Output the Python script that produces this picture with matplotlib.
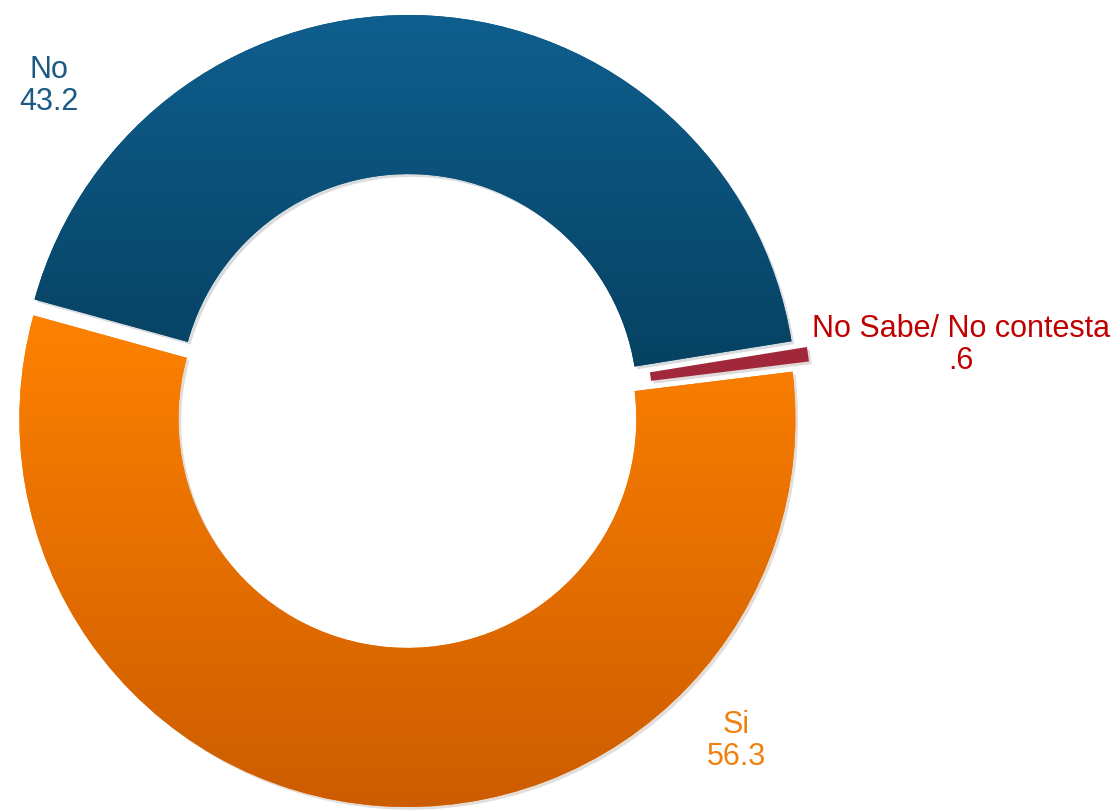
import numpy as np
import matplotlib.pyplot as plt
import matplotlib.patheffects as pe
from matplotlib.colors import LinearSegmentedColormap

# datos
categorias = ['No Sabe/ No contesta', 'No', 'Si']
valores = [0.6, 43.2, 56.3]
etiquetas_valor = ['.6', '43.2', '56.3']

W, H = 1120, 811
fig = plt.figure(figsize=(W / 100, H / 100), dpi=100)
ax = fig.add_axes([0, 0, 1, 1])

cx, cy = 408, H - 411
R = 388
ancho = 0.41

# explode en unidades de datos (pixeles)
wedges, _ = ax.pie(valores, center=(cx, cy), radius=R, startangle=7,
                   counterclock=True, explode=[16, 8, 8],
                   wedgeprops=dict(width=R * ancho, linewidth=0),
                   colors=['#a0283a', '#0b5582', '#f07400'], frame=True)
ax.set_xlim(0, W)
ax.set_ylim(0, H)
ax.set_aspect('equal')
ax.axis('off')

# degradados verticales (arriba -> abajo)
grads = {
    1: ('#0f5f8f', '#06405f', H - 10, H - 385),
    2: ('#ff8200', '#cc5c00', H - 300, H - 811),
}
for i, w in enumerate(wedges):
    w.set_path_effects([pe.SimplePatchShadow(offset=(2, -2), alpha=0.15), pe.Normal()])
    if i in grads:
        c_top, c_bot, y_top, y_bot = grads[i]
        cmap = LinearSegmentedColormap.from_list('g%d' % i, [c_bot, c_top])
        grad = np.linspace(0, 1, 256).reshape(-1, 1)
        im = ax.imshow(grad, cmap=cmap, origin='lower', aspect='auto',
                       extent=(0, W, y_bot, y_top), zorder=w.get_zorder() + 0.1)
        im.set_clip_path(w)

ax.set_xlim(0, W)
ax.set_ylim(0, H)

fuente = 'Liberation Sans'
ax.text(49, H - 86, 'No\n43.2', ha='center', va='center', fontsize=22,
        color='#1b5a84', family=fuente, linespacing=1.08)
ax.text(736, H - 741, 'Si\n56.3', ha='center', va='center', fontsize=22,
        color='#f28010', family=fuente, linespacing=1.1)
ax.text(961, H - 345, 'No Sabe/ No contesta\n.6', ha='center', va='center',
        fontsize=22, color='#c00000', family=fuente, linespacing=1.05)

fig.savefig('out.png', dpi=100)
